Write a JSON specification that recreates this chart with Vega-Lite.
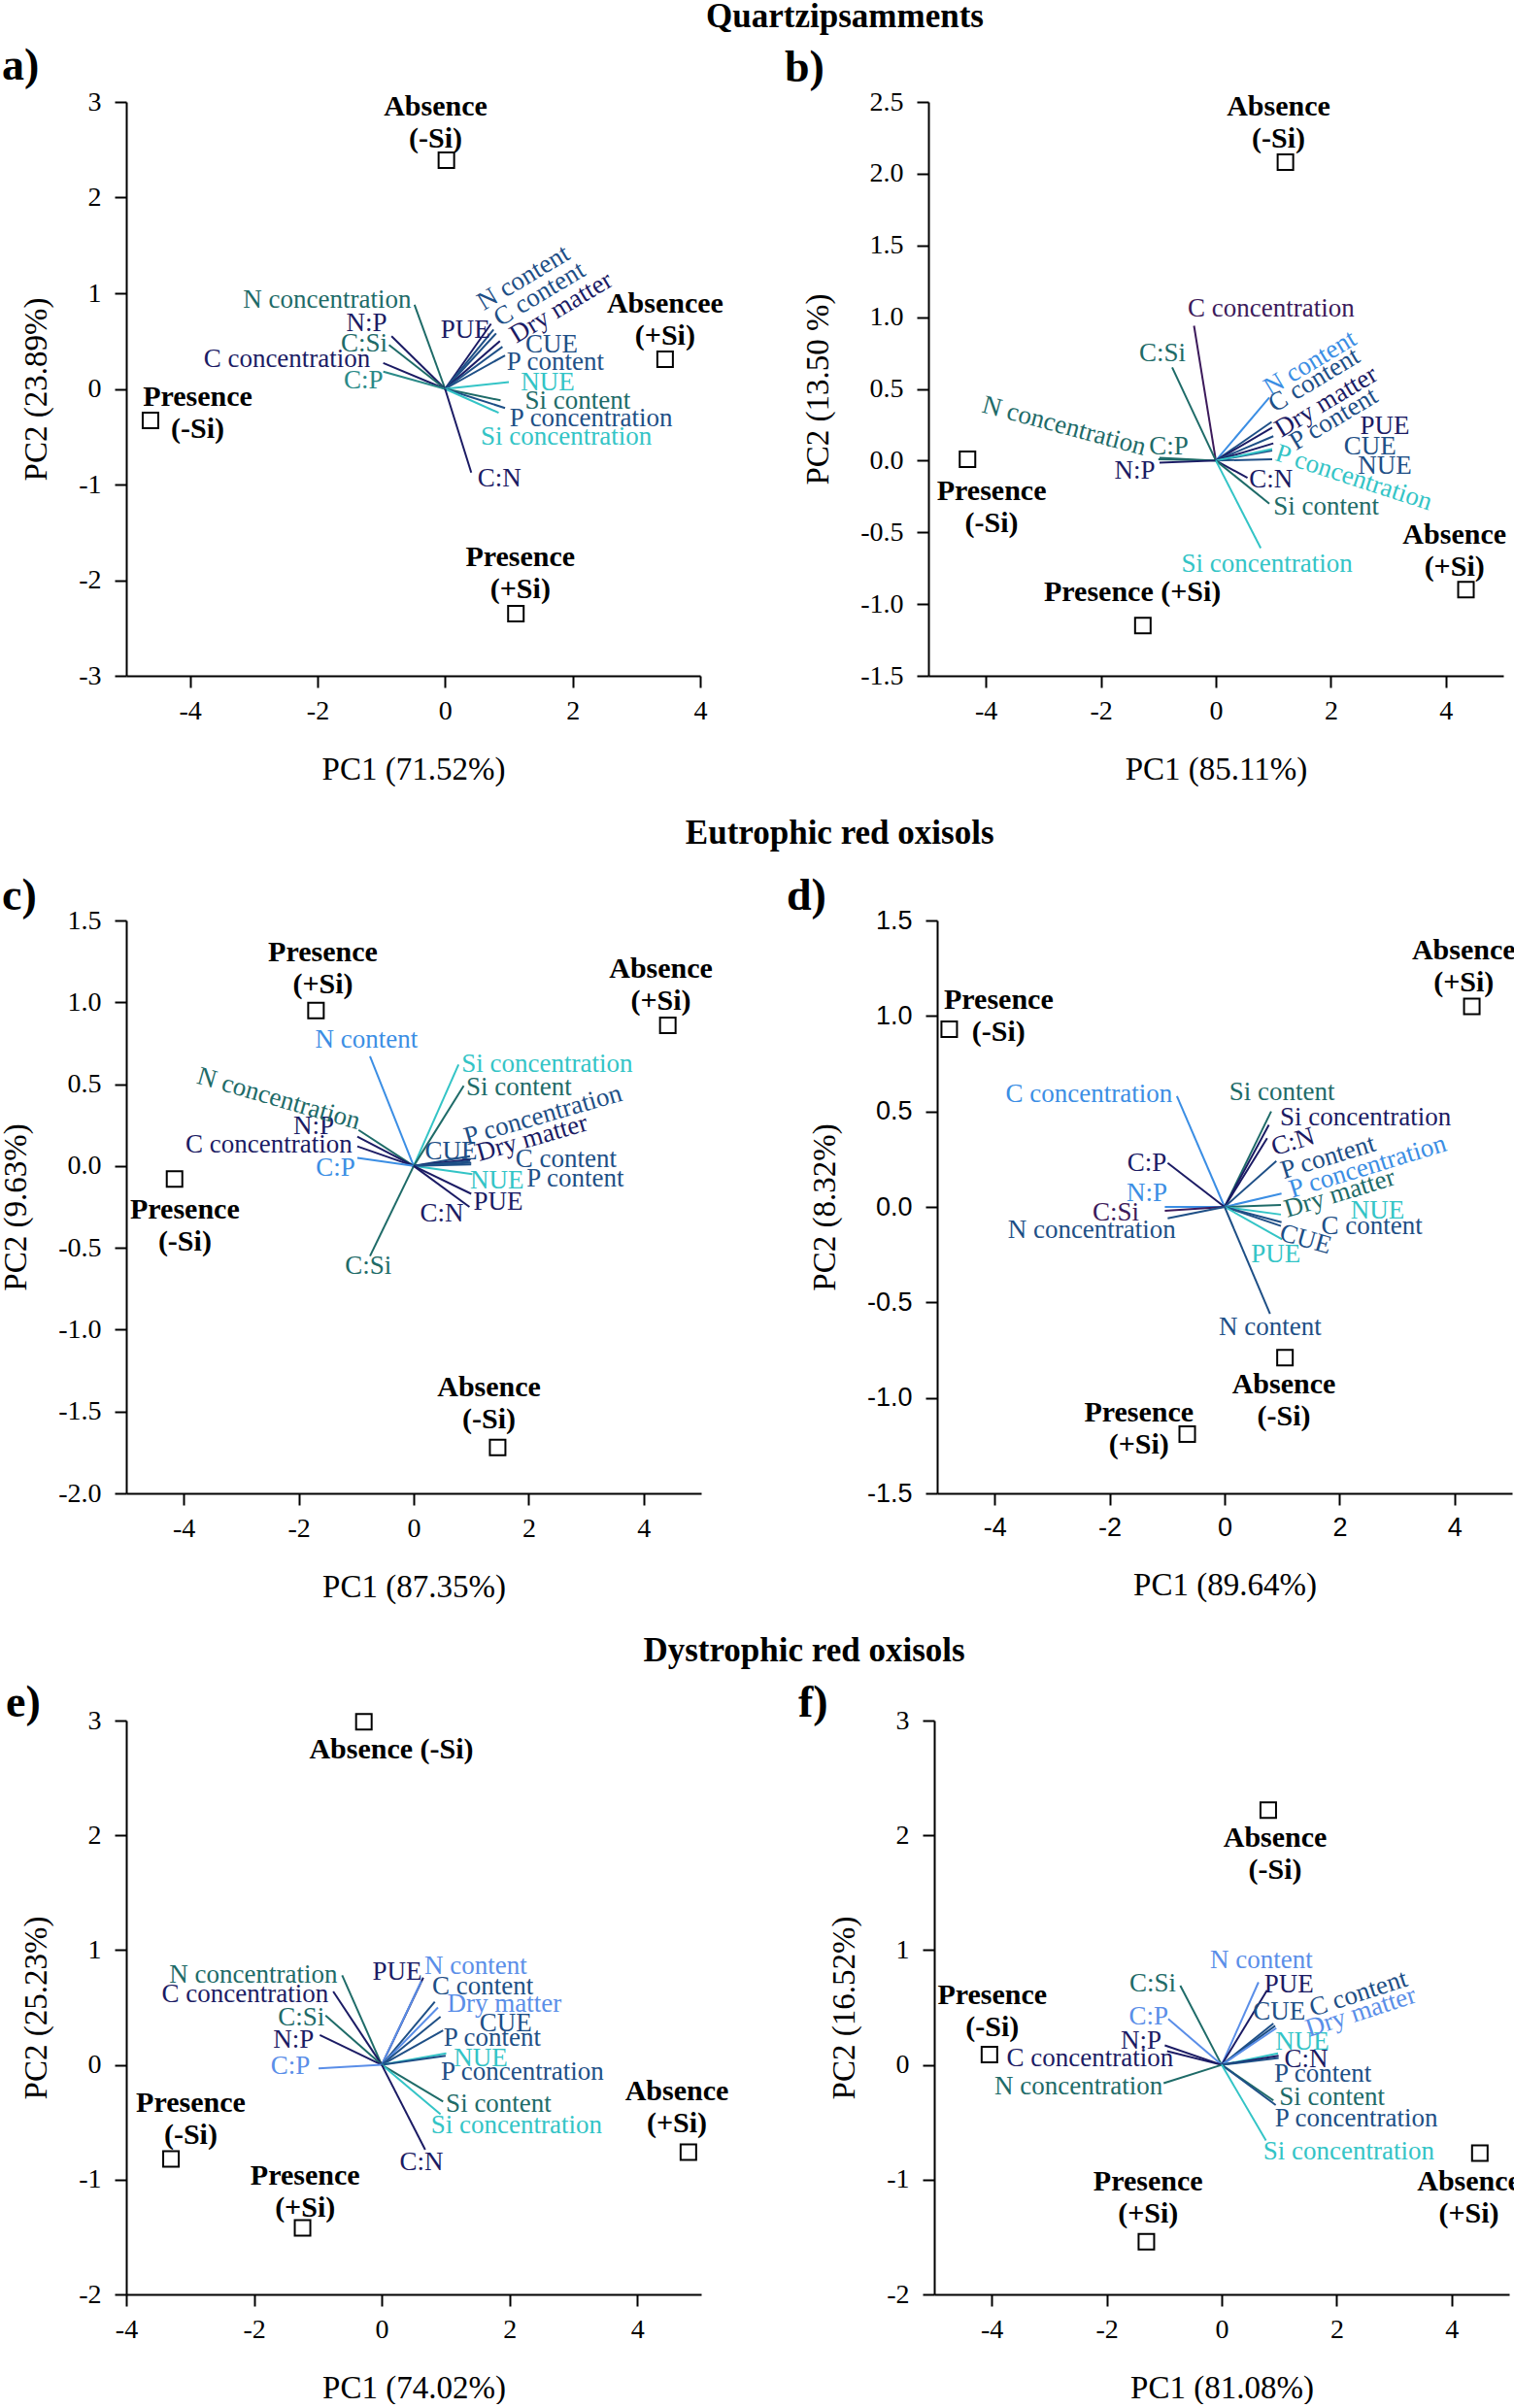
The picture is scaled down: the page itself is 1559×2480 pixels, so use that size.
{
"$schema":"https://vega.github.io/schema/vega-lite/v6.json",
"padding":0,
"background":"white",
"spacing":31,
"resolve":{"scale":{"color":"independent"}},
"config":{
 "view":{"stroke":null},
 "axis":{"grid":false,"domainColor":"black","domainWidth":2,"tickColor":"black","tickWidth":2,"tickSize":12,"labelFont":"Liberation Serif","labelFontSize":28,"labelColor":"black","titleFont":"Liberation Serif","titleFontSize":33,"titleFontWeight":"normal","titleColor":"black","labelFlush":false,"labelOverlap":false,"labelBound":false},
 "axisX":{"labelPadding":10,"titlePadding":30},
 "axisY":{"labelPadding":14,"titlePadding":26}
},
"datasets":{
 "va":[
  {"var":"N concentration","x":-0.48,"y":0.88,"lx":-1.85,"ly":0.93},
  {"var":"N:P","x":-0.84,"y":0.55,"lx":-1.23,"ly":0.69},
  {"var":"C:Si","x":-0.88,"y":0.46,"lx":-1.27,"ly":0.47},
  {"var":"C concentration","x":-0.97,"y":0.27,"lx":-2.48,"ly":0.31},
  {"var":"C:P","x":-0.97,"y":0.18,"lx":-1.28,"ly":0.09},
  {"var":"PUE","x":0.72,"y":0.68,"lx":0.32,"ly":0.61},
  {"var":"N content","x":0.76,"y":0.62,"lx":1.23,"ly":1.16},
  {"var":"C content","x":0.8,"y":0.58,"lx":1.48,"ly":0.99},
  {"var":"Dry matter","x":0.86,"y":0.5,"lx":1.82,"ly":0.85},
  {"var":"CUE","x":0.9,"y":0.44,"lx":1.67,"ly":0.46},
  {"var":"P content","x":0.94,"y":0.35,"lx":1.73,"ly":0.28},
  {"var":"NUE","x":1.0,"y":0.07,"lx":1.61,"ly":0.07},
  {"var":"Si content","x":0.87,"y":-0.12,"lx":2.08,"ly":-0.13},
  {"var":"P concentration","x":0.94,"y":-0.2,"lx":2.29,"ly":-0.31},
  {"var":"Si concentration","x":0.84,"y":-0.25,"lx":1.9,"ly":-0.5},
  {"var":"C:N","x":0.41,"y":-0.875,"lx":0.85,"ly":-0.94}
 ],
 "ta":[
  {"label":"Absence\n(-Si)","x":0.02,"y":2.39,"lx":-0.15,"ly":2.79},
  {"label":"Absencee\n(+Si)","x":3.45,"y":0.31,"lx":3.45,"ly":0.73},
  {"label":"Presence\n(-Si)","x":-4.62,"y":-0.33,"lx":-3.88,"ly":-0.25},
  {"label":"Presence\n(+Si)","x":1.11,"y":-2.35,"lx":1.18,"ly":-1.92}
 ],
 "vb":[
  {"var":"C concentration","x":-0.38,"y":0.94,"lx":0.96,"ly":1.06},
  {"var":"C:Si","x":-0.76,"y":0.65,"lx":-0.93,"ly":0.75},
  {"var":"N concentration","x":-1.0,"y":0.01,"lx":-2.64,"ly":0.24},
  {"var":"C:P","x":-0.98,"y":0.02,"lx":-0.82,"ly":0.1},
  {"var":"N:P","x":-0.98,"y":-0.015,"lx":-1.41,"ly":-0.07},
  {"var":"N content","x":0.93,"y":0.44,"lx":1.64,"ly":0.68},
  {"var":"C content","x":0.97,"y":0.27,"lx":1.71,"ly":0.56},
  {"var":"Dry matter","x":0.98,"y":0.23,"lx":1.92,"ly":0.41},
  {"var":"P content","x":1.0,"y":0.17,"lx":2.05,"ly":0.29},
  {"var":"PUE","x":1.0,"y":0.12,"lx":2.94,"ly":0.24},
  {"var":"CUE","x":0.98,"y":0.07,"lx":2.68,"ly":0.1},
  {"var":"NUE","x":0.98,"y":0.01,"lx":2.94,"ly":-0.04},
  {"var":"P concentration","x":0.98,"y":0.08,"lx":2.4,"ly":-0.12},
  {"var":"C:N","x":0.55,"y":-0.12,"lx":0.96,"ly":-0.13},
  {"var":"Si content","x":0.93,"y":-0.3,"lx":1.92,"ly":-0.32},
  {"var":"Si concentration","x":0.78,"y":-0.61,"lx":0.89,"ly":-0.72}
 ],
 "tb":[
  {"label":"Absence\n(-Si)","x":1.21,"y":2.08,"lx":1.09,"ly":2.36},
  {"label":"Presence\n(-Si)","x":-4.32,"y":0.01,"lx":-3.9,"ly":-0.32},
  {"label":"Presence (+Si)","x":-1.27,"y":-1.15,"lx":-1.45,"ly":-0.92},
  {"label":"Absence\n(+Si)","x":4.35,"y":-0.9,"lx":4.15,"ly":-0.63}
 ],
 "vc":[
  {"var":"N content","x":-0.76,"y":0.67,"lx":-0.82,"ly":0.77},
  {"var":"N concentration","x":-0.96,"y":0.22,"lx":-2.35,"ly":0.41},
  {"var":"N:P","x":-0.98,"y":0.18,"lx":-1.74,"ly":0.24},
  {"var":"C concentration","x":-0.98,"y":0.12,"lx":-2.52,"ly":0.13},
  {"var":"C:P","x":-0.98,"y":0.05,"lx":-1.36,"ly":-0.01},
  {"var":"C:Si","x":-0.76,"y":-0.55,"lx":-0.79,"ly":-0.61},
  {"var":"Si concentration","x":0.78,"y":0.62,"lx":2.32,"ly":0.62},
  {"var":"Si content","x":0.87,"y":0.49,"lx":1.83,"ly":0.48},
  {"var":"P concentration","x":0.98,"y":0.06,"lx":2.25,"ly":0.31},
  {"var":"Dry matter","x":0.99,"y":0.04,"lx":2.06,"ly":0.17},
  {"var":"CUE","x":0.98,"y":0.03,"lx":0.65,"ly":0.09},
  {"var":"C content","x":1.0,"y":0.02,"lx":2.65,"ly":0.04},
  {"var":"NUE","x":1.02,"y":-0.05,"lx":1.45,"ly":-0.09},
  {"var":"P content","x":1.0,"y":0.01,"lx":2.81,"ly":-0.08},
  {"var":"PUE","x":1.0,"y":-0.17,"lx":1.47,"ly":-0.22},
  {"var":"C:N","x":0.97,"y":-0.25,"lx":0.49,"ly":-0.29}
 ],
 "tc":[
  {"label":"Presence\n(+Si)","x":-1.7,"y":0.95,"lx":-1.58,"ly":1.21},
  {"label":"Absence\n(+Si)","x":4.42,"y":0.86,"lx":4.3,"ly":1.11},
  {"label":"Presence\n(-Si)","x":-4.16,"y":-0.08,"lx":-3.98,"ly":-0.36},
  {"label":"Absence\n(-Si)","x":1.46,"y":-1.72,"lx":1.31,"ly":-1.45}
 ],
 "vd":[
  {"var":"C concentration","x":-0.83,"y":0.58,"lx":-2.36,"ly":0.59},
  {"var":"C:P","x":-0.99,"y":0.23,"lx":-1.35,"ly":0.23},
  {"var":"N:P","x":-1.04,"y":0.0,"lx":-1.35,"ly":0.07},
  {"var":"C:Si","x":-1.04,"y":-0.02,"lx":-1.89,"ly":-0.03},
  {"var":"N concentration","x":-0.99,"y":-0.06,"lx":-2.31,"ly":-0.12},
  {"var":"Si content","x":0.81,"y":0.5,"lx":1.0,"ly":0.6},
  {"var":"Si concentration","x":0.77,"y":0.43,"lx":2.45,"ly":0.47},
  {"var":"C:N","x":0.74,"y":0.36,"lx":1.19,"ly":0.34},
  {"var":"P content","x":0.9,"y":0.24,"lx":1.8,"ly":0.26},
  {"var":"P concentration","x":0.99,"y":0.07,"lx":2.49,"ly":0.21},
  {"var":"Dry matter","x":0.98,"y":0.01,"lx":2.0,"ly":0.07},
  {"var":"NUE","x":0.98,"y":-0.04,"lx":2.66,"ly":-0.02},
  {"var":"C content","x":0.99,"y":-0.08,"lx":2.56,"ly":-0.1},
  {"var":"CUE","x":0.98,"y":-0.1,"lx":1.41,"ly":-0.17},
  {"var":"PUE","x":1.0,"y":-0.17,"lx":0.89,"ly":-0.25},
  {"var":"N content","x":0.79,"y":-0.56,"lx":0.79,"ly":-0.63}
 ],
 "td":[
  {"label":"Presence\n(-Si)","x":-4.79,"y":0.93,"lx":-3.93,"ly":1.0},
  {"label":"Absence\n(+Si)","x":4.3,"y":1.05,"lx":4.16,"ly":1.26},
  {"label":"Absence\n(-Si)","x":1.05,"y":-0.79,"lx":1.03,"ly":-1.01},
  {"label":"Presence\n(+Si)","x":-0.65,"y":-1.19,"lx":-1.49,"ly":-1.16}
 ],
 "ve":[
  {"var":"N concentration","x":-0.62,"y":0.78,"lx":-2.01,"ly":0.78},
  {"var":"C concentration","x":-0.76,"y":0.64,"lx":-2.14,"ly":0.61},
  {"var":"C:Si","x":-0.88,"y":0.43,"lx":-1.26,"ly":0.41},
  {"var":"N:P","x":-0.97,"y":0.26,"lx":-1.38,"ly":0.22},
  {"var":"C:P","x":-0.99,"y":-0.03,"lx":-1.43,"ly":-0.01},
  {"var":"PUE","x":0.65,"y":0.76,"lx":0.24,"ly":0.81},
  {"var":"N content","x":0.62,"y":0.73,"lx":1.47,"ly":0.86},
  {"var":"C content","x":0.83,"y":0.55,"lx":1.58,"ly":0.68},
  {"var":"Dry matter","x":0.88,"y":0.5,"lx":1.92,"ly":0.53},
  {"var":"CUE","x":0.92,"y":0.42,"lx":1.94,"ly":0.36},
  {"var":"P content","x":0.96,"y":0.3,"lx":1.73,"ly":0.23},
  {"var":"NUE","x":1.01,"y":0.1,"lx":1.55,"ly":0.06},
  {"var":"P concentration","x":1.0,"y":0.08,"lx":2.2,"ly":-0.06},
  {"var":"Si content","x":0.96,"y":-0.32,"lx":1.83,"ly":-0.34},
  {"var":"Si concentration","x":0.92,"y":-0.43,"lx":2.11,"ly":-0.53},
  {"var":"C:N","x":0.68,"y":-0.74,"lx":0.62,"ly":-0.85}
 ],
 "te":[
  {"label":"Absence (-Si)","x":-0.28,"y":2.99,"lx":0.15,"ly":2.75},
  {"label":"Presence\n(-Si)","x":-3.3,"y":-0.82,"lx":-2.99,"ly":-0.47},
  {"label":"Presence\n(+Si)","x":-1.24,"y":-1.42,"lx":-1.2,"ly":-1.1},
  {"label":"Absence\n(+Si)","x":4.8,"y":-0.76,"lx":4.62,"ly":-0.37}
 ],
 "vf":[
  {"var":"C:Si","x":-0.72,"y":0.69,"lx":-1.2,"ly":0.71},
  {"var":"C:P","x":-0.93,"y":0.4,"lx":-1.27,"ly":0.42},
  {"var":"N:P","x":-0.99,"y":0.17,"lx":-1.4,"ly":0.21},
  {"var":"C concentration","x":-0.95,"y":0.12,"lx":-2.29,"ly":0.06},
  {"var":"N concentration","x":-1.01,"y":-0.16,"lx":-2.49,"ly":-0.19},
  {"var":"N content","x":0.64,"y":0.72,"lx":0.69,"ly":0.91},
  {"var":"PUE","x":0.79,"y":0.65,"lx":1.17,"ly":0.7},
  {"var":"CUE","x":0.9,"y":0.36,"lx":1.0,"ly":0.46},
  {"var":"C content","x":0.93,"y":0.34,"lx":2.38,"ly":0.62},
  {"var":"Dry matter","x":0.95,"y":0.32,"lx":2.42,"ly":0.46},
  {"var":"NUE","x":0.98,"y":0.1,"lx":1.4,"ly":0.2},
  {"var":"C:N","x":0.99,"y":0.08,"lx":1.47,"ly":0.05},
  {"var":"P content","x":0.99,"y":0.06,"lx":1.76,"ly":-0.08},
  {"var":"Si content","x":0.9,"y":-0.31,"lx":1.92,"ly":-0.28},
  {"var":"P concentration","x":0.94,"y":-0.35,"lx":2.34,"ly":-0.47},
  {"var":"Si concentration","x":0.77,"y":-0.66,"lx":2.21,"ly":-0.76}
 ],
 "tf":[
  {"label":"Absence\n(-Si)","x":0.81,"y":2.22,"lx":0.93,"ly":1.84},
  {"label":"Presence\n(-Si)","x":-4.04,"y":0.09,"lx":-3.99,"ly":0.47},
  {"label":"Presence\n(+Si)","x":-1.31,"y":-1.54,"lx":-1.28,"ly":-1.15},
  {"label":"Absence\n(+Si)","x":4.49,"y":-0.77,"lx":4.3,"ly":-1.15}
 ]
},
"vconcat":[
 {
  "title":{"text":"Quartzipsamments","anchor":"start","frame":"bounds","align":"center","dx":868,"offset":10,"fontSize":35,"fontWeight":"bold","font":"Liberation Serif","color":"black"},
  "spacing":63,
  "resolve":{"scale":{"color":"independent"}},
  "hconcat":[
   {
    "width":591,"height":591,
    "title":{"text":"a)","anchor":"start","frame":"group","align":"left","dx":-128,"offset":-1,"fontSize":46,"fontWeight":"bold","font":"Liberation Serif","color":"black"},
    "layer":[
     {"data":{"name":"va"},"mark":{"type":"rule","strokeWidth":2},
      "encoding":{
       "x":{"field":"x","type":"quantitative","scale":{"domain":[-5,4],"nice":false,"zero":false},"axis":{"title":"PC1 (71.52%)","values":[-4,-2,0,2,4],"labelExpr":"replace(datum.label, '−', '-')"}},
       "y":{"field":"y","type":"quantitative","scale":{"domain":[-3,3],"nice":false,"zero":false},"axis":{"title":"PC2 (23.89%)","values":[-3,-2,-1,0,1,2,3],"labelExpr":"replace(datum.label, '−', '-')"}},
       "x2":{"datum":0},"y2":{"datum":0},
       "color":{"field":"var","type":"nominal","legend":null,"scale":{
        "domain":["N concentration","N:P","C:Si","C concentration","C:P","PUE","N content","C content","Dry matter","CUE","P content","NUE","Si content","P concentration","Si concentration","C:N"],
        "range":["#1e6b68","#1b1b64","#1e6b68","#1b1b64","#2a8a88","#1b1b64","#1e4f86","#1e4f86","#1b1b64","#1e4f86","#1e4f86","#33c4c6","#1e6b68","#1e4f86","#33c4c6","#1b1b64"]}}}},
     {"data":{"name":"va"},"transform":[{"filter":{"not":{"field":"var","oneOf":["N content","C content","Dry matter"]}}}],
      "mark":{"type":"text","font":"Liberation Serif","fontSize":27,"align":"center","baseline":"middle"},
      "encoding":{
       "x":{"field":"lx","type":"quantitative","scale":{"domain":[-5,4],"nice":false,"zero":false},"axis":{"title":"PC1 (71.52%)","values":[-4,-2,0,2,4],"labelExpr":"replace(datum.label, '−', '-')"}},
       "y":{"field":"ly","type":"quantitative","scale":{"domain":[-3,3],"nice":false,"zero":false},"axis":{"title":"PC2 (23.89%)","values":[-3,-2,-1,0,1,2,3],"labelExpr":"replace(datum.label, '−', '-')"}},
       "text":{"field":"var"},"color":{"field":"var","type":"nominal","legend":null}}},
     {"data":{"name":"va"},"transform":[{"filter":{"field":"var","oneOf":["N content","C content","Dry matter"]}}],
      "mark":{"type":"text","font":"Liberation Serif","fontSize":27,"align":"center","baseline":"middle","angle":-31},
      "encoding":{
       "x":{"field":"lx","type":"quantitative","scale":{"domain":[-5,4],"nice":false,"zero":false},"axis":{"title":"PC1 (71.52%)","values":[-4,-2,0,2,4],"labelExpr":"replace(datum.label, '−', '-')"}},
       "y":{"field":"ly","type":"quantitative","scale":{"domain":[-3,3],"nice":false,"zero":false},"axis":{"title":"PC2 (23.89%)","values":[-3,-2,-1,0,1,2,3],"labelExpr":"replace(datum.label, '−', '-')"}},
       "text":{"field":"var"},"color":{"field":"var","type":"nominal","legend":null}}},
     {"data":{"name":"ta"},"mark":{"type":"point","shape":"square","filled":false,"strokeWidth":2,"size":256,"opacity":1,"color":"black"},
      "encoding":{
       "x":{"field":"x","type":"quantitative","scale":{"domain":[-5,4],"nice":false,"zero":false},"axis":{"title":"PC1 (71.52%)","values":[-4,-2,0,2,4],"labelExpr":"replace(datum.label, '−', '-')"}},
       "y":{"field":"y","type":"quantitative","scale":{"domain":[-3,3],"nice":false,"zero":false},"axis":{"title":"PC2 (23.89%)","values":[-3,-2,-1,0,1,2,3],"labelExpr":"replace(datum.label, '−', '-')"}}}},
     {"data":{"name":"ta"},"mark":{"type":"text","font":"Liberation Serif","fontSize":30,"fontWeight":"bold","lineBreak":"\n","lineHeight":33,"align":"center","baseline":"middle","dy":-16,"color":"black"},
      "encoding":{
       "x":{"field":"lx","type":"quantitative","scale":{"domain":[-5,4],"nice":false,"zero":false},"axis":{"title":"PC1 (71.52%)","values":[-4,-2,0,2,4],"labelExpr":"replace(datum.label, '−', '-')"}},
       "y":{"field":"ly","type":"quantitative","scale":{"domain":[-3,3],"nice":false,"zero":false},"axis":{"title":"PC2 (23.89%)","values":[-3,-2,-1,0,1,2,3],"labelExpr":"replace(datum.label, '−', '-')"}},
       "text":{"field":"label"}}}
    ]
   },
   {
    "width":592,"height":591,
    "title":{"text":"b)","anchor":"start","frame":"group","align":"left","dx":-148,"offset":-3,"fontSize":46,"fontWeight":"bold","font":"Liberation Serif","color":"black"},
    "layer":[
     {"data":{"name":"vb"},"mark":{"type":"rule","strokeWidth":2},
      "encoding":{
       "x":{"field":"x","type":"quantitative","scale":{"domain":[-5,5],"nice":false,"zero":false},"axis":{"title":"PC1 (85.11%)","values":[-4,-2,0,2,4],"labelExpr":"replace(datum.label, '−', '-')"}},
       "y":{"field":"y","type":"quantitative","scale":{"domain":[-1.5,2.5],"nice":false,"zero":false},"axis":{"title":"PC2 (13.50 %)","values":[-1.5,-1,-0.5,0,0.5,1,1.5,2,2.5],"format":".1f","labelExpr":"replace(datum.label, '−', '-')"}},
       "x2":{"datum":0},"y2":{"datum":0},
       "color":{"field":"var","type":"nominal","legend":null,"scale":{
        "domain":["C concentration","C:Si","N concentration","C:P","N:P","N content","C content","Dry matter","P content","PUE","CUE","NUE","P concentration","C:N","Si content","Si concentration"],
        "range":["#3c1a5b","#1e6b68","#1e6b68","#1e6b68","#1b1b64","#3b8ee4","#1e4f86","#1b1b64","#1e4f86","#1b1b64","#1e4f86","#1e4f86","#33c4c6","#1b1b64","#1e6b68","#33c4c6"]}}}},
     {"data":{"name":"vb"},"transform":[{"filter":{"not":{"field":"var","oneOf":["N content","C content","Dry matter","P content","N concentration","P concentration"]}}}],
      "mark":{"type":"text","font":"Liberation Serif","fontSize":27,"align":"center","baseline":"middle"},
      "encoding":{
       "x":{"field":"lx","type":"quantitative","scale":{"domain":[-5,5],"nice":false,"zero":false},"axis":{"title":"PC1 (85.11%)","values":[-4,-2,0,2,4],"labelExpr":"replace(datum.label, '−', '-')"}},
       "y":{"field":"ly","type":"quantitative","scale":{"domain":[-1.5,2.5],"nice":false,"zero":false},"axis":{"title":"PC2 (13.50 %)","values":[-1.5,-1,-0.5,0,0.5,1,1.5,2,2.5],"format":".1f","labelExpr":"replace(datum.label, '−', '-')"}},
       "text":{"field":"var"},"color":{"field":"var","type":"nominal","legend":null}}},
     {"data":{"name":"vb"},"transform":[{"filter":{"field":"var","oneOf":["N content","C content","Dry matter","P content"]}}],
      "mark":{"type":"text","font":"Liberation Serif","fontSize":27,"align":"center","baseline":"middle","angle":-31},
      "encoding":{
       "x":{"field":"lx","type":"quantitative","scale":{"domain":[-5,5],"nice":false,"zero":false},"axis":{"title":"PC1 (85.11%)","values":[-4,-2,0,2,4],"labelExpr":"replace(datum.label, '−', '-')"}},
       "y":{"field":"ly","type":"quantitative","scale":{"domain":[-1.5,2.5],"nice":false,"zero":false},"axis":{"title":"PC2 (13.50 %)","values":[-1.5,-1,-0.5,0,0.5,1,1.5,2,2.5],"format":".1f","labelExpr":"replace(datum.label, '−', '-')"}},
       "text":{"field":"var"},"color":{"field":"var","type":"nominal","legend":null}}},
     {"data":{"name":"vb"},"transform":[{"filter":{"field":"var","oneOf":["N concentration"]}}],
      "mark":{"type":"text","font":"Liberation Serif","fontSize":27,"align":"center","baseline":"middle","angle":15},
      "encoding":{
       "x":{"field":"lx","type":"quantitative","scale":{"domain":[-5,5],"nice":false,"zero":false},"axis":{"title":"PC1 (85.11%)","values":[-4,-2,0,2,4],"labelExpr":"replace(datum.label, '−', '-')"}},
       "y":{"field":"ly","type":"quantitative","scale":{"domain":[-1.5,2.5],"nice":false,"zero":false},"axis":{"title":"PC2 (13.50 %)","values":[-1.5,-1,-0.5,0,0.5,1,1.5,2,2.5],"format":".1f","labelExpr":"replace(datum.label, '−', '-')"}},
       "text":{"field":"var"},"color":{"field":"var","type":"nominal","legend":null}}},
     {"data":{"name":"vb"},"transform":[{"filter":{"field":"var","oneOf":["P concentration"]}}],
      "mark":{"type":"text","font":"Liberation Serif","fontSize":27,"align":"center","baseline":"middle","angle":18},
      "encoding":{
       "x":{"field":"lx","type":"quantitative","scale":{"domain":[-5,5],"nice":false,"zero":false},"axis":{"title":"PC1 (85.11%)","values":[-4,-2,0,2,4],"labelExpr":"replace(datum.label, '−', '-')"}},
       "y":{"field":"ly","type":"quantitative","scale":{"domain":[-1.5,2.5],"nice":false,"zero":false},"axis":{"title":"PC2 (13.50 %)","values":[-1.5,-1,-0.5,0,0.5,1,1.5,2,2.5],"format":".1f","labelExpr":"replace(datum.label, '−', '-')"}},
       "text":{"field":"var"},"color":{"field":"var","type":"nominal","legend":null}}},
     {"data":{"name":"tb"},"mark":{"type":"point","shape":"square","filled":false,"strokeWidth":2,"size":256,"opacity":1,"color":"black"},
      "encoding":{
       "x":{"field":"x","type":"quantitative","scale":{"domain":[-5,5],"nice":false,"zero":false},"axis":{"title":"PC1 (85.11%)","values":[-4,-2,0,2,4],"labelExpr":"replace(datum.label, '−', '-')"}},
       "y":{"field":"y","type":"quantitative","scale":{"domain":[-1.5,2.5],"nice":false,"zero":false},"axis":{"title":"PC2 (13.50 %)","values":[-1.5,-1,-0.5,0,0.5,1,1.5,2,2.5],"format":".1f","labelExpr":"replace(datum.label, '−', '-')"}}}},
     {"data":{"name":"tb"},"transform":[{"filter":{"not":{"field":"label","oneOf":["Presence (+Si)"]}}}],"mark":{"type":"text","font":"Liberation Serif","fontSize":30,"fontWeight":"bold","lineBreak":"\n","lineHeight":33,"align":"center","baseline":"middle","dy":-16,"color":"black"},
      "encoding":{
       "x":{"field":"lx","type":"quantitative","scale":{"domain":[-5,5],"nice":false,"zero":false},"axis":{"title":"PC1 (85.11%)","values":[-4,-2,0,2,4],"labelExpr":"replace(datum.label, '−', '-')"}},
       "y":{"field":"ly","type":"quantitative","scale":{"domain":[-1.5,2.5],"nice":false,"zero":false},"axis":{"title":"PC2 (13.50 %)","values":[-1.5,-1,-0.5,0,0.5,1,1.5,2,2.5],"format":".1f","labelExpr":"replace(datum.label, '−', '-')"}},
       "text":{"field":"label"}}},
     {"data":{"name":"tb"},"transform":[{"filter":{"field":"label","oneOf":["Presence (+Si)"]}}],"mark":{"type":"text","font":"Liberation Serif","fontSize":30,"fontWeight":"bold","align":"center","baseline":"middle","color":"black"},
      "encoding":{
       "x":{"field":"lx","type":"quantitative","scale":{"domain":[-5,5],"nice":false,"zero":false},"axis":{"title":"PC1 (85.11%)","values":[-4,-2,0,2,4],"labelExpr":"replace(datum.label, '−', '-')"}},
       "y":{"field":"ly","type":"quantitative","scale":{"domain":[-1.5,2.5],"nice":false,"zero":false},"axis":{"title":"PC2 (13.50 %)","values":[-1.5,-1,-0.5,0,0.5,1,1.5,2,2.5],"format":".1f","labelExpr":"replace(datum.label, '−', '-')"}},
       "text":{"field":"label"}}}
    ]
   }
  ]
 },
 {
  "title":{"text":"Eutrophic red oxisols","anchor":"start","frame":"bounds","align":"center","dx":864,"offset":24,"fontSize":35,"fontWeight":"bold","font":"Liberation Serif","color":"black"},
  "spacing":76,
  "resolve":{"scale":{"color":"independent"}},
  "hconcat":[
   {
    "width":592,"height":590,
    "title":{"text":"c)","anchor":"start","frame":"group","align":"left","dx":-128,"offset":-12.5,"fontSize":46,"fontWeight":"bold","font":"Liberation Serif","color":"black"},
    "layer":[
     {"data":{"name":"vc"},"mark":{"type":"rule","strokeWidth":2},
      "encoding":{
       "x":{"field":"x","type":"quantitative","scale":{"domain":[-5,5],"nice":false,"zero":false},"axis":{"title":"PC1 (87.35%)","values":[-4,-2,0,2,4],"labelExpr":"replace(datum.label, '−', '-')"}},
       "y":{"field":"y","type":"quantitative","scale":{"domain":[-2,1.5],"nice":false,"zero":false},"axis":{"title":"PC2 (9.63%)","values":[-2,-1.5,-1,-0.5,0,0.5,1,1.5],"format":".1f","labelExpr":"replace(datum.label, '−', '-')"}},
       "x2":{"datum":0},"y2":{"datum":0},
       "color":{"field":"var","type":"nominal","legend":null,"scale":{
        "domain":["N content","N concentration","N:P","C concentration","C:P","C:Si","Si concentration","Si content","P concentration","Dry matter","CUE","C content","NUE","P content","PUE","C:N"],
        "range":["#3b8ee4","#1e6b68","#1b1b64","#1b1b64","#3b8ee4","#1e6b68","#33c4c6","#1e6b68","#1e4f86","#1b1b64","#1e4f86","#1e4f86","#33c4c6","#1e4f86","#1b1b64","#1b1b64"]}}}},
     {"data":{"name":"vc"},"transform":[{"filter":{"not":{"field":"var","oneOf":["N concentration","P concentration","Dry matter"]}}}],
      "mark":{"type":"text","font":"Liberation Serif","fontSize":27,"align":"center","baseline":"middle"},
      "encoding":{
       "x":{"field":"lx","type":"quantitative","scale":{"domain":[-5,5],"nice":false,"zero":false},"axis":{"title":"PC1 (87.35%)","values":[-4,-2,0,2,4],"labelExpr":"replace(datum.label, '−', '-')"}},
       "y":{"field":"ly","type":"quantitative","scale":{"domain":[-2,1.5],"nice":false,"zero":false},"axis":{"title":"PC2 (9.63%)","values":[-2,-1.5,-1,-0.5,0,0.5,1,1.5],"format":".1f","labelExpr":"replace(datum.label, '−', '-')"}},
       "text":{"field":"var"},"color":{"field":"var","type":"nominal","legend":null}}},
     {"data":{"name":"vc"},"transform":[{"filter":{"field":"var","oneOf":["N concentration"]}}],
      "mark":{"type":"text","font":"Liberation Serif","fontSize":27,"align":"center","baseline":"middle","angle":16},
      "encoding":{
       "x":{"field":"lx","type":"quantitative","scale":{"domain":[-5,5],"nice":false,"zero":false},"axis":{"title":"PC1 (87.35%)","values":[-4,-2,0,2,4],"labelExpr":"replace(datum.label, '−', '-')"}},
       "y":{"field":"ly","type":"quantitative","scale":{"domain":[-2,1.5],"nice":false,"zero":false},"axis":{"title":"PC2 (9.63%)","values":[-2,-1.5,-1,-0.5,0,0.5,1,1.5],"format":".1f","labelExpr":"replace(datum.label, '−', '-')"}},
       "text":{"field":"var"},"color":{"field":"var","type":"nominal","legend":null}}},
     {"data":{"name":"vc"},"transform":[{"filter":{"field":"var","oneOf":["P concentration","Dry matter"]}}],
      "mark":{"type":"text","font":"Liberation Serif","fontSize":27,"align":"center","baseline":"middle","angle":-16},
      "encoding":{
       "x":{"field":"lx","type":"quantitative","scale":{"domain":[-5,5],"nice":false,"zero":false},"axis":{"title":"PC1 (87.35%)","values":[-4,-2,0,2,4],"labelExpr":"replace(datum.label, '−', '-')"}},
       "y":{"field":"ly","type":"quantitative","scale":{"domain":[-2,1.5],"nice":false,"zero":false},"axis":{"title":"PC2 (9.63%)","values":[-2,-1.5,-1,-0.5,0,0.5,1,1.5],"format":".1f","labelExpr":"replace(datum.label, '−', '-')"}},
       "text":{"field":"var"},"color":{"field":"var","type":"nominal","legend":null}}},
     {"data":{"name":"tc"},"mark":{"type":"point","shape":"square","filled":false,"strokeWidth":2,"size":256,"opacity":1,"color":"black"},
      "encoding":{
       "x":{"field":"x","type":"quantitative","scale":{"domain":[-5,5],"nice":false,"zero":false},"axis":{"title":"PC1 (87.35%)","values":[-4,-2,0,2,4],"labelExpr":"replace(datum.label, '−', '-')"}},
       "y":{"field":"y","type":"quantitative","scale":{"domain":[-2,1.5],"nice":false,"zero":false},"axis":{"title":"PC2 (9.63%)","values":[-2,-1.5,-1,-0.5,0,0.5,1,1.5],"format":".1f","labelExpr":"replace(datum.label, '−', '-')"}}}},
     {"data":{"name":"tc"},"mark":{"type":"text","font":"Liberation Serif","fontSize":30,"fontWeight":"bold","lineBreak":"\n","lineHeight":33,"align":"center","baseline":"middle","dy":-16,"color":"black"},
      "encoding":{
       "x":{"field":"lx","type":"quantitative","scale":{"domain":[-5,5],"nice":false,"zero":false},"axis":{"title":"PC1 (87.35%)","values":[-4,-2,0,2,4],"labelExpr":"replace(datum.label, '−', '-')"}},
       "y":{"field":"ly","type":"quantitative","scale":{"domain":[-2,1.5],"nice":false,"zero":false},"axis":{"title":"PC2 (9.63%)","values":[-2,-1.5,-1,-0.5,0,0.5,1,1.5],"format":".1f","labelExpr":"replace(datum.label, '−', '-')"}},
       "text":{"field":"label"}}}
    ]
   },
   {
    "width":592,"height":590,
    "title":{"text":"d)","anchor":"start","frame":"group","align":"left","dx":-155,"offset":-12.5,"fontSize":46,"fontWeight":"bold","font":"Liberation Serif","color":"black"},
    "layer":[
     {"data":{"name":"vd"},"mark":{"type":"rule","strokeWidth":2},
      "encoding":{
       "x":{"field":"x","type":"quantitative","scale":{"domain":[-5,5],"nice":false,"zero":false},"axis":{"title":"PC1 (89.64%)","values":[-4,-2,0,2,4],"labelFont":"Liberation Sans","labelFontSize":27,"labelExpr":"replace(datum.label, '−', '-')"}},
       "y":{"field":"y","type":"quantitative","scale":{"domain":[-1.5,1.5],"nice":false,"zero":false},"axis":{"title":"PC2 (8.32%)","values":[-1.5,-1,-0.5,0,0.5,1,1.5],"format":".1f","labelFont":"Liberation Sans","labelFontSize":27,"labelExpr":"replace(datum.label, '−', '-')"}},
       "x2":{"datum":0},"y2":{"datum":0},
       "color":{"field":"var","type":"nominal","legend":null,"scale":{
        "domain":["C concentration","C:P","N:P","C:Si","N concentration","Si content","Si concentration","C:N","P content","P concentration","Dry matter","NUE","C content","CUE","PUE","N content"],
        "range":["#3b8ee4","#1b1b64","#3b8ee4","#3c1a5b","#1e4f86","#1e6b68","#1b1b64","#1b1b64","#1e4f86","#3b8ee4","#1e6b68","#33c4c6","#1e4f86","#1e4f86","#33c4c6","#1e4f86"]}}}},
     {"data":{"name":"vd"},"transform":[{"filter":{"not":{"field":"var","oneOf":["C:N","P content","P concentration","Dry matter","CUE"]}}}],
      "mark":{"type":"text","font":"Liberation Serif","fontSize":27,"align":"center","baseline":"middle"},
      "encoding":{
       "x":{"field":"lx","type":"quantitative","scale":{"domain":[-5,5],"nice":false,"zero":false},"axis":{"title":"PC1 (89.64%)","values":[-4,-2,0,2,4],"labelFont":"Liberation Sans","labelFontSize":27,"labelExpr":"replace(datum.label, '−', '-')"}},
       "y":{"field":"ly","type":"quantitative","scale":{"domain":[-1.5,1.5],"nice":false,"zero":false},"axis":{"title":"PC2 (8.32%)","values":[-1.5,-1,-0.5,0,0.5,1,1.5],"format":".1f","labelFont":"Liberation Sans","labelFontSize":27,"labelExpr":"replace(datum.label, '−', '-')"}},
       "text":{"field":"var"},"color":{"field":"var","type":"nominal","legend":null}}},
     {"data":{"name":"vd"},"transform":[{"filter":{"field":"var","oneOf":["C:N","P content","P concentration","Dry matter"]}}],
      "mark":{"type":"text","font":"Liberation Serif","fontSize":27,"align":"center","baseline":"middle","angle":-17},
      "encoding":{
       "x":{"field":"lx","type":"quantitative","scale":{"domain":[-5,5],"nice":false,"zero":false},"axis":{"title":"PC1 (89.64%)","values":[-4,-2,0,2,4],"labelFont":"Liberation Sans","labelFontSize":27,"labelExpr":"replace(datum.label, '−', '-')"}},
       "y":{"field":"ly","type":"quantitative","scale":{"domain":[-1.5,1.5],"nice":false,"zero":false},"axis":{"title":"PC2 (8.32%)","values":[-1.5,-1,-0.5,0,0.5,1,1.5],"format":".1f","labelFont":"Liberation Sans","labelFontSize":27,"labelExpr":"replace(datum.label, '−', '-')"}},
       "text":{"field":"var"},"color":{"field":"var","type":"nominal","legend":null}}},
     {"data":{"name":"vd"},"transform":[{"filter":{"field":"var","oneOf":["CUE"]}}],
      "mark":{"type":"text","font":"Liberation Serif","fontSize":27,"align":"center","baseline":"middle","angle":16},
      "encoding":{
       "x":{"field":"lx","type":"quantitative","scale":{"domain":[-5,5],"nice":false,"zero":false},"axis":{"title":"PC1 (89.64%)","values":[-4,-2,0,2,4],"labelFont":"Liberation Sans","labelFontSize":27,"labelExpr":"replace(datum.label, '−', '-')"}},
       "y":{"field":"ly","type":"quantitative","scale":{"domain":[-1.5,1.5],"nice":false,"zero":false},"axis":{"title":"PC2 (8.32%)","values":[-1.5,-1,-0.5,0,0.5,1,1.5],"format":".1f","labelFont":"Liberation Sans","labelFontSize":27,"labelExpr":"replace(datum.label, '−', '-')"}},
       "text":{"field":"var"},"color":{"field":"var","type":"nominal","legend":null}}},
     {"data":{"name":"td"},"mark":{"type":"point","shape":"square","filled":false,"strokeWidth":2,"size":256,"opacity":1,"color":"black"},
      "encoding":{
       "x":{"field":"x","type":"quantitative","scale":{"domain":[-5,5],"nice":false,"zero":false},"axis":{"title":"PC1 (89.64%)","values":[-4,-2,0,2,4],"labelFont":"Liberation Sans","labelFontSize":27,"labelExpr":"replace(datum.label, '−', '-')"}},
       "y":{"field":"y","type":"quantitative","scale":{"domain":[-1.5,1.5],"nice":false,"zero":false},"axis":{"title":"PC2 (8.32%)","values":[-1.5,-1,-0.5,0,0.5,1,1.5],"format":".1f","labelFont":"Liberation Sans","labelFontSize":27,"labelExpr":"replace(datum.label, '−', '-')"}}}},
     {"data":{"name":"td"},"mark":{"type":"text","font":"Liberation Serif","fontSize":30,"fontWeight":"bold","lineBreak":"\n","lineHeight":33,"align":"center","baseline":"middle","dy":-16,"color":"black"},
      "encoding":{
       "x":{"field":"lx","type":"quantitative","scale":{"domain":[-5,5],"nice":false,"zero":false},"axis":{"title":"PC1 (89.64%)","values":[-4,-2,0,2,4],"labelFont":"Liberation Sans","labelFontSize":27,"labelExpr":"replace(datum.label, '−', '-')"}},
       "y":{"field":"ly","type":"quantitative","scale":{"domain":[-1.5,1.5],"nice":false,"zero":false},"axis":{"title":"PC2 (8.32%)","values":[-1.5,-1,-0.5,0,0.5,1,1.5],"format":".1f","labelFont":"Liberation Sans","labelFontSize":27,"labelExpr":"replace(datum.label, '−', '-')"}},
       "text":{"field":"label"}}}
    ]
   }
  ]
 },
 {
  "title":{"text":"Dystrophic red oxisols","anchor":"start","frame":"bounds","align":"center","dx":822,"offset":13,"fontSize":35,"fontWeight":"bold","font":"Liberation Serif","color":"black"},
  "spacing":71,
  "resolve":{"scale":{"color":"independent"}},
  "hconcat":[
   {
    "width":592,"height":591,
    "title":{"text":"e)","anchor":"start","frame":"group","align":"left","dx":-124,"offset":-19.5,"fontSize":46,"fontWeight":"bold","font":"Liberation Serif","color":"black"},
    "layer":[
     {"data":{"name":"ve"},"mark":{"type":"rule","strokeWidth":2},
      "encoding":{
       "x":{"field":"x","type":"quantitative","scale":{"domain":[-4,5],"nice":false,"zero":false},"axis":{"title":"PC1 (74.02%)","values":[-4,-2,0,2,4],"labelExpr":"replace(datum.label, '−', '-')"}},
       "y":{"field":"y","type":"quantitative","scale":{"domain":[-2,3],"nice":false,"zero":false},"axis":{"title":"PC2 (25.23%)","values":[-2,-1,0,1,2,3],"labelExpr":"replace(datum.label, '−', '-')"}},
       "x2":{"datum":0},"y2":{"datum":0},
       "color":{"field":"var","type":"nominal","legend":null,"scale":{
        "domain":["N concentration","C concentration","C:Si","N:P","C:P","PUE","N content","C content","Dry matter","CUE","P content","NUE","P concentration","Si content","Si concentration","C:N"],
        "range":["#1e6b68","#1b1b64","#1e6b68","#1b1b64","#5a8ee8","#1b1b64","#5a8ee8","#1e4f86","#5a8ee8","#1e4f86","#1e4f86","#33c4c6","#1e4f86","#1e6b68","#33c4c6","#1b1b64"]}}}},
     {"data":{"name":"ve"},
      "mark":{"type":"text","font":"Liberation Serif","fontSize":27,"align":"center","baseline":"middle"},
      "encoding":{
       "x":{"field":"lx","type":"quantitative","scale":{"domain":[-4,5],"nice":false,"zero":false},"axis":{"title":"PC1 (74.02%)","values":[-4,-2,0,2,4],"labelExpr":"replace(datum.label, '−', '-')"}},
       "y":{"field":"ly","type":"quantitative","scale":{"domain":[-2,3],"nice":false,"zero":false},"axis":{"title":"PC2 (25.23%)","values":[-2,-1,0,1,2,3],"labelExpr":"replace(datum.label, '−', '-')"}},
       "text":{"field":"var"},"color":{"field":"var","type":"nominal","legend":null}}},
     {"data":{"name":"te"},"mark":{"type":"point","shape":"square","filled":false,"strokeWidth":2,"size":256,"opacity":1,"color":"black"},
      "encoding":{
       "x":{"field":"x","type":"quantitative","scale":{"domain":[-4,5],"nice":false,"zero":false},"axis":{"title":"PC1 (74.02%)","values":[-4,-2,0,2,4],"labelExpr":"replace(datum.label, '−', '-')"}},
       "y":{"field":"y","type":"quantitative","scale":{"domain":[-2,3],"nice":false,"zero":false},"axis":{"title":"PC2 (25.23%)","values":[-2,-1,0,1,2,3],"labelExpr":"replace(datum.label, '−', '-')"}}}},
     {"data":{"name":"te"},"transform":[{"filter":{"not":{"field":"label","oneOf":["Absence (-Si)"]}}}],"mark":{"type":"text","font":"Liberation Serif","fontSize":30,"fontWeight":"bold","lineBreak":"\n","lineHeight":33,"align":"center","baseline":"middle","dy":-16,"color":"black"},
      "encoding":{
       "x":{"field":"lx","type":"quantitative","scale":{"domain":[-4,5],"nice":false,"zero":false},"axis":{"title":"PC1 (74.02%)","values":[-4,-2,0,2,4],"labelExpr":"replace(datum.label, '−', '-')"}},
       "y":{"field":"ly","type":"quantitative","scale":{"domain":[-2,3],"nice":false,"zero":false},"axis":{"title":"PC2 (25.23%)","values":[-2,-1,0,1,2,3],"labelExpr":"replace(datum.label, '−', '-')"}},
       "text":{"field":"label"}}},
     {"data":{"name":"te"},"transform":[{"filter":{"field":"label","oneOf":["Absence (-Si)"]}}],"mark":{"type":"text","font":"Liberation Serif","fontSize":30,"fontWeight":"bold","align":"center","baseline":"middle","color":"black"},
      "encoding":{
       "x":{"field":"lx","type":"quantitative","scale":{"domain":[-4,5],"nice":false,"zero":false},"axis":{"title":"PC1 (74.02%)","values":[-4,-2,0,2,4],"labelExpr":"replace(datum.label, '−', '-')"}},
       "y":{"field":"ly","type":"quantitative","scale":{"domain":[-2,3],"nice":false,"zero":false},"axis":{"title":"PC2 (25.23%)","values":[-2,-1,0,1,2,3],"labelExpr":"replace(datum.label, '−', '-')"}},
       "text":{"field":"label"}}}
    ]
   },
   {
    "width":592,"height":591,
    "title":{"text":"f)","anchor":"start","frame":"group","align":"left","dx":-140,"offset":-19.5,"fontSize":46,"fontWeight":"bold","font":"Liberation Serif","color":"black"},
    "layer":[
     {"data":{"name":"vf"},"mark":{"type":"rule","strokeWidth":2},
      "encoding":{
       "x":{"field":"x","type":"quantitative","scale":{"domain":[-5,5],"nice":false,"zero":false},"axis":{"title":"PC1 (81.08%)","values":[-4,-2,0,2,4],"labelExpr":"replace(datum.label, '−', '-')"}},
       "y":{"field":"y","type":"quantitative","scale":{"domain":[-2,3],"nice":false,"zero":false},"axis":{"title":"PC2 (16.52%)","values":[-2,-1,0,1,2,3],"labelExpr":"replace(datum.label, '−', '-')"}},
       "x2":{"datum":0},"y2":{"datum":0},
       "color":{"field":"var","type":"nominal","legend":null,"scale":{
        "domain":["C:Si","C:P","N:P","C concentration","N concentration","N content","PUE","CUE","C content","Dry matter","NUE","C:N","P content","Si content","P concentration","Si concentration"],
        "range":["#1e6b68","#5a8ee8","#1b1b64","#1b1b64","#1e6b68","#5a8ee8","#1b1b64","#1e4f86","#1e4f86","#5a8ee8","#33c4c6","#1b1b64","#1e4f86","#1e6b68","#1e4f86","#33c4c6"]}}}},
     {"data":{"name":"vf"},"transform":[{"filter":{"not":{"field":"var","oneOf":["C content","Dry matter"]}}}],
      "mark":{"type":"text","font":"Liberation Serif","fontSize":27,"align":"center","baseline":"middle"},
      "encoding":{
       "x":{"field":"lx","type":"quantitative","scale":{"domain":[-5,5],"nice":false,"zero":false},"axis":{"title":"PC1 (81.08%)","values":[-4,-2,0,2,4],"labelExpr":"replace(datum.label, '−', '-')"}},
       "y":{"field":"ly","type":"quantitative","scale":{"domain":[-2,3],"nice":false,"zero":false},"axis":{"title":"PC2 (16.52%)","values":[-2,-1,0,1,2,3],"labelExpr":"replace(datum.label, '−', '-')"}},
       "text":{"field":"var"},"color":{"field":"var","type":"nominal","legend":null}}},
     {"data":{"name":"vf"},"transform":[{"filter":{"field":"var","oneOf":["C content","Dry matter"]}}],
      "mark":{"type":"text","font":"Liberation Serif","fontSize":27,"align":"center","baseline":"middle","angle":-18},
      "encoding":{
       "x":{"field":"lx","type":"quantitative","scale":{"domain":[-5,5],"nice":false,"zero":false},"axis":{"title":"PC1 (81.08%)","values":[-4,-2,0,2,4],"labelExpr":"replace(datum.label, '−', '-')"}},
       "y":{"field":"ly","type":"quantitative","scale":{"domain":[-2,3],"nice":false,"zero":false},"axis":{"title":"PC2 (16.52%)","values":[-2,-1,0,1,2,3],"labelExpr":"replace(datum.label, '−', '-')"}},
       "text":{"field":"var"},"color":{"field":"var","type":"nominal","legend":null}}},
     {"data":{"name":"tf"},"mark":{"type":"point","shape":"square","filled":false,"strokeWidth":2,"size":256,"opacity":1,"color":"black"},
      "encoding":{
       "x":{"field":"x","type":"quantitative","scale":{"domain":[-5,5],"nice":false,"zero":false},"axis":{"title":"PC1 (81.08%)","values":[-4,-2,0,2,4],"labelExpr":"replace(datum.label, '−', '-')"}},
       "y":{"field":"y","type":"quantitative","scale":{"domain":[-2,3],"nice":false,"zero":false},"axis":{"title":"PC2 (16.52%)","values":[-2,-1,0,1,2,3],"labelExpr":"replace(datum.label, '−', '-')"}}}},
     {"data":{"name":"tf"},"mark":{"type":"text","font":"Liberation Serif","fontSize":30,"fontWeight":"bold","lineBreak":"\n","lineHeight":33,"align":"center","baseline":"middle","dy":-16,"color":"black"},
      "encoding":{
       "x":{"field":"lx","type":"quantitative","scale":{"domain":[-5,5],"nice":false,"zero":false},"axis":{"title":"PC1 (81.08%)","values":[-4,-2,0,2,4],"labelExpr":"replace(datum.label, '−', '-')"}},
       "y":{"field":"ly","type":"quantitative","scale":{"domain":[-2,3],"nice":false,"zero":false},"axis":{"title":"PC2 (16.52%)","values":[-2,-1,0,1,2,3],"labelExpr":"replace(datum.label, '−', '-')"}},
       "text":{"field":"label"}}}
    ]
   }
  ]
 }
]
}
